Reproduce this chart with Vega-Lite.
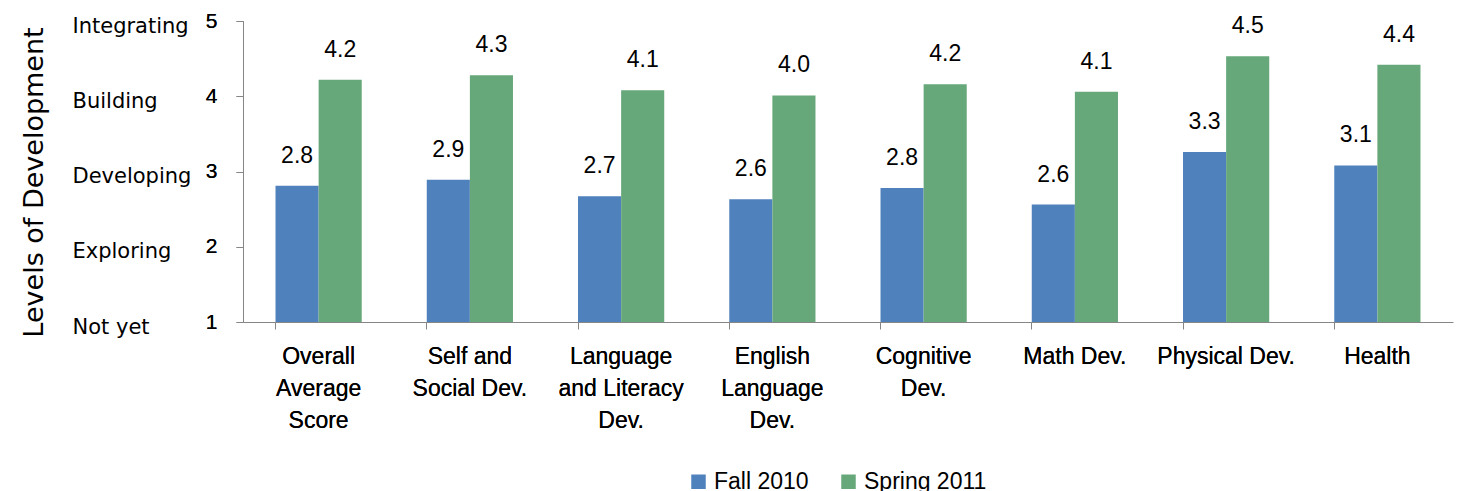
{
  "$schema": "https://vega.github.io/schema/vega-lite/v6.json",
  "width": 1210,
  "height": 301,
  "autosize": {"type": "none"},
  "padding": {"left": 243, "top": 21, "right": 9, "bottom": 169},
  "background": "white",
  "config": {"view": {"stroke": null}, "font": "Liberation Sans"},
  "data": {
    "values": [
      {"category": "Overall Average Score", "term": "Fall 2010", "score": 2.81},
      {"category": "Overall Average Score", "term": "Spring 2011", "score": 4.22},
      {"category": "Self and Social Dev.", "term": "Fall 2010", "score": 2.89},
      {"category": "Self and Social Dev.", "term": "Spring 2011", "score": 4.28},
      {"category": "Language and Literacy Dev.", "term": "Fall 2010", "score": 2.67},
      {"category": "Language and Literacy Dev.", "term": "Spring 2011", "score": 4.08},
      {"category": "English Language Dev.", "term": "Fall 2010", "score": 2.63},
      {"category": "English Language Dev.", "term": "Spring 2011", "score": 4.01},
      {"category": "Cognitive Dev.", "term": "Fall 2010", "score": 2.78},
      {"category": "Cognitive Dev.", "term": "Spring 2011", "score": 4.16},
      {"category": "Math Dev.", "term": "Fall 2010", "score": 2.56},
      {"category": "Math Dev.", "term": "Spring 2011", "score": 4.06},
      {"category": "Physical Dev.", "term": "Fall 2010", "score": 3.26},
      {"category": "Physical Dev.", "term": "Spring 2011", "score": 4.53},
      {"category": "Health", "term": "Fall 2010", "score": 3.08},
      {"category": "Health", "term": "Spring 2011", "score": 4.42}
    ]
  },
  "encoding": {
    "x": {
      "field": "category",
      "type": "nominal",
      "sort": null,
      "scale": {"paddingInner": 0.43, "paddingOuter": 0.215},
      "axis": {
        "orient": "bottom",
        "title": null,
        "domain": false,
        "ticks": false,
        "labelAngle": 0,
        "labelFontSize": 23,
        "labelLineHeight": 32,
        "labelPadding": 23,
        "labelColor": "#000000",
        "labelBaseline": "top",
        "labelExpr": "datum.value == 'Overall Average Score' ? ['Overall', 'Average', 'Score'] : datum.value == 'Self and Social Dev.' ? ['Self and', 'Social Dev.'] : datum.value == 'Language and Literacy Dev.' ? ['Language', 'and Literacy', 'Dev.'] : datum.value == 'English Language Dev.' ? ['English', 'Language', 'Dev.'] : datum.value == 'Cognitive Dev.' ? ['Cognitive', 'Dev.'] : datum.value"
      }
    },
    "xOffset": {"field": "term", "type": "nominal", "sort": ["Fall 2010", "Spring 2011"]},
    "y": {
      "field": "score",
      "type": "quantitative",
      "scale": {"domain": [1, 5], "zero": false, "nice": false},
      "axis": {
        "orient": "left",
        "title": null,
        "values": [1, 2, 3, 4, 5],
        "grid": false,
        "domainColor": "#868686",
        "tickColor": "#868686",
        "tickSize": 7,
        "labelPadding": 19,
        "labelFontSize": 21,
        "labelColor": "#000000"
      }
    }
  },
  "layer": [
    {
      "mark": {"type": "bar"},
      "encoding": {
        "y2": {"datum": 1},
        "color": {
          "field": "term",
          "type": "nominal",
          "sort": ["Fall 2010", "Spring 2011"],
          "scale": {"domain": ["Fall 2010", "Spring 2011"], "range": ["#4F81BD", "#67A87B"]},
          "legend": {
            "title": null,
            "orient": "none",
            "legendX": 444,
            "legendY": 449,
            "direction": "horizontal",
            "symbolType": "square",
            "symbolSize": 210,
            "symbolStrokeWidth": 0,
            "labelFontSize": 23,
            "labelColor": "#000000",
            "columnPadding": 28
          }
        }
      }
    },
    {
      "mark": {"type": "text", "baseline": "bottom", "dy": -18, "fontSize": 23, "color": "#000000"},
      "encoding": {"text": {"field": "score", "type": "quantitative", "format": ".1f"}}
    },
    {
      "mark": {"type": "rule", "opacity": 0},
      "encoding": {
        "x": {
          "field": "category",
          "type": "nominal",
          "sort": null,
          "axis": {
            "orient": "bottom",
            "title": null,
            "labels": false,
            "ticks": true,
            "tickSize": 7,
            "bandPosition": 0,
            "domain": true,
            "domainColor": "#868686",
            "tickColor": "#868686"
          }
        },
        "y": {
          "field": "score",
          "type": "quantitative",
          "axis": {
            "orient": "left",
            "title": "Levels of Development",
            "titleFont": "DejaVu Sans",
            "titleFontSize": 27,
            "titleFontWeight": "normal",
            "titleColor": "#000000",
            "titlePadding": 24,
            "titleY": 161,
            "values": [1, 2, 3, 4, 5],
            "grid": false,
            "domain": false,
            "ticks": false,
            "labelAlign": "left",
            "labelPadding": 171,
            "labelOffset": 5,
            "labelFont": "DejaVu Sans",
            "labelFontSize": 21,
            "labelColor": "#000000",
            "labelExpr": "datum.value == 5 ? 'Integrating' : datum.value == 4 ? 'Building' : datum.value == 3 ? 'Developing' : datum.value == 2 ? 'Exploring' : 'Not yet'"
          }
        }
      }
    }
  ],
  "resolve": {"axis": {"x": "independent", "y": "independent"}}
}
